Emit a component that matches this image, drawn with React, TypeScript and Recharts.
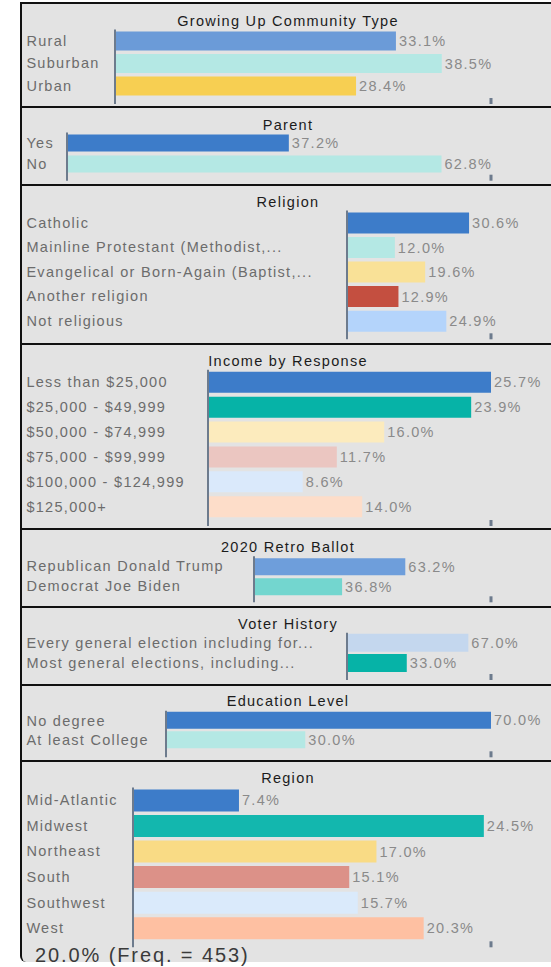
import React from 'react';
import { BarChart, Bar, XAxis, YAxis, Cell, LabelList } from 'recharts';

const FONT = '"Liberation Sans", Arial, sans-serif';

const communityCategories = ['Rural', 'Suburban', 'Urban'];
const communityValues = [33.1, 38.5, 28.4];
const communityColors = ['#6b9bd8', '#b4e8e4', '#f7cf52'];

const parentCategories = ['Yes', 'No'];
const parentValues = [37.2, 62.8];
const parentColors = ['#3d7cc9', '#b4e8e4'];

const religionCategories = [
  'Catholic',
  'Mainline Protestant (Methodist,...',
  'Evangelical or Born-Again (Baptist,...',
  'Another religion',
  'Not religious',
];
const religionValues = [30.6, 12.0, 19.6, 12.9, 24.9];
const religionColors = ['#3d7cc9', '#b4e8e4', '#f9e197', '#c44f40', '#b4d4fb'];

const incomeCategories = [
  'Less than $25,000',
  '$25,000 - $49,999',
  '$50,000 - $74,999',
  '$75,000 - $99,999',
  '$100,000 - $124,999',
  '$125,000+',
];
const incomeValues = [25.7, 23.9, 16.0, 11.7, 8.6, 14.0];
const incomeColors = ['#3d7cc9', '#06b3a7', '#fcebbd', '#ebc6c1', '#dae9fb', '#fdddc9'];

const ballotCategories = ['Republican Donald Trump', 'Democrat Joe Biden'];
const ballotValues = [63.2, 36.8];
const ballotColors = ['#6e9edb', '#73d6cf'];

const voterCategories = ['Every general election including for...', 'Most general elections, including...'];
const voterValues = [67.0, 33.0];
const voterColors = ['#c4d7ee', '#06b3a7'];

const educationCategories = ['No degree', 'At least College'];
const educationValues = [70.0, 30.0];
const educationColors = ['#3d7cc9', '#b4e8e4'];

const regionCategories = ['Mid-Atlantic', 'Midwest', 'Northeast', 'South', 'Southwest', 'West'];
const regionValues = [7.4, 24.5, 17.0, 15.1, 15.7, 20.3];
const regionColors = ['#3d7cc9', '#13b7ae', '#f9db85', '#dc9188', '#daeafb', '#fec0a2'];

const panelTitles = [
  'Growing Up Community Type',
  'Parent',
  'Religion',
  'Income by Response',
  '2020 Retro Ballot',
  'Voter History',
  'Education Level',
  'Region',
];
const axisMaxima = [44.3, 71.1, 36.1, 25.7, 99, 79.5, 70, 25];
const footerText = '20.0% (Freq. = 453)';

const CHART_W = 532;
const PLOT_RIGHT = 469; // relative to chart left
const AXIS_COLOR = '#6d7b8d';

const panels = [
  { title: panelTitles[0], cats: communityCategories, vals: communityValues, colors: communityColors, max: axisMaxima[0], h: 102, titleY: 16.7, plotTop: 25.5, plotBottom: 100, padBottom: 7, x0: 115, barSize: 19 },
  { title: panelTitles[1], cats: parentCategories, vals: parentValues, colors: parentColors, max: axisMaxima[1], h: 76, titleY: 17, plotTop: 24.5, plotBottom: 72.7, padBottom: 6.2, x0: 67, barSize: 17 },
  { title: panelTitles[2], cats: religionCategories, vals: religionValues, colors: religionColors, max: axisMaxima[2], h: 157, titleY: 15.7, plotTop: 24.4, plotBottom: 153.3, padBottom: 6.1, x0: 347, barSize: 21 },
  { title: panelTitles[3], cats: incomeCategories, vals: incomeValues, colors: incomeColors, max: axisMaxima[3], h: 183, titleY: 15.7, plotTop: 24.75, plotBottom: 181, padBottom: 6.85, x0: 208, barSize: 21 },
  { title: panelTitles[4], cats: ballotCategories, vals: ballotValues, colors: ballotColors, max: axisMaxima[4], h: 76, titleY: 16.7, plotTop: 26.2, plotBottom: 72.3, padBottom: 6.1, x0: 254, barSize: 17 },
  { title: panelTitles[5], cats: voterCategories, vals: voterValues, colors: voterColors, max: axisMaxima[5], h: 76, titleY: 16, plotTop: 24.7, plotBottom: 72, padBottom: 6.9, x0: 347, barSize: 18 },
  { title: panelTitles[6], cats: educationCategories, vals: educationValues, colors: educationColors, max: axisMaxima[6], h: 74, titleY: 14.7, plotTop: 24.75, plotBottom: 71.3, padBottom: 7.5, x0: 166, barSize: 17 },
  { title: panelTitles[7], cats: regionCategories, vals: regionValues, colors: regionColors, max: axisMaxima[7], h: 200, titleY: 16.3, plotTop: 25.4, plotBottom: 185.3, padBottom: 6.5, x0: 133, barSize: 22 },
];

const CategoryTick = (props: any) => {
  const { y, payload } = props;
  return (
    <text x={4.4} y={y} dy="0.35em" textAnchor="start" fill="#6c6c6c" fontSize={14.5} fontFamily={FONT} style={{ letterSpacing: '1.3px' }}>
      {payload.value}
    </text>
  );
};

const EndTick = (props: any) => {
  const { x, y } = props;
  return <rect x={x - 1.5} y={y - 6} width={3} height={6} fill={AXIS_COLOR} />;
};

const ValueLabel = (props: any) => {
  const { x, y, width, height, value } = props;
  return (
    <text x={x + width + 3} y={y + height / 2} dy="0.35em" textAnchor="start" fill="#8a8a8a" fontSize={14.5} fontFamily={FONT} style={{ letterSpacing: '1.3px' }}>
      {`${Number(value).toFixed(1)}%`}
    </text>
  );
};

const Panel = ({ p, last }: { p: any; last: boolean }) => {
  const data = p.cats.map((c: string, i: number) => ({ name: c, value: p.vals[i] }));
  return (
    <div style={{ position: 'relative', height: p.h, borderBottom: last ? 'none' : '2px solid #111' }}>
      <div
        style={{
          position: 'absolute',
          left: 0,
          width: CHART_W,
          top: p.titleY - 8,
          height: 16,
          lineHeight: '16px',
          textAlign: 'center',
          fontFamily: FONT,
          fontSize: 14.5,
          letterSpacing: '1.3px',
          color: '#1c1c1c',
          whiteSpace: 'nowrap',
        }}
      >
        {p.title}
      </div>
      <div style={{ position: 'absolute', left: 0, top: 0 }}>
        <BarChart
          width={CHART_W}
          height={p.h}
          data={data}
          layout="vertical"
          margin={{ top: p.plotTop, bottom: p.h - p.plotBottom - 2, left: 0, right: CHART_W - PLOT_RIGHT }}
        >
          <XAxis
            type="number"
            domain={[0, p.max]}
            ticks={[p.max]}
            interval={0}
            height={2}
            axisLine={false}
            tickLine={false}
            tickSize={0}
            tickMargin={0}
            tick={<EndTick />}
            allowDataOverflow
          />
          <YAxis
            type="category"
            dataKey="name"
            width={p.x0 - 22}
            interval={0}
            axisLine={{ stroke: AXIS_COLOR, strokeWidth: 2 }}
            tickLine={false}
            tick={<CategoryTick />}
            padding={{ top: 0, bottom: p.padBottom }}
          />
          <Bar dataKey="value" barSize={p.barSize} isAnimationActive={false}>
            {data.map((_: any, i: number) => (
              <Cell key={i} fill={p.colors[i]} />
            ))}
            <LabelList dataKey="value" content={<ValueLabel />} />
          </Bar>
        </BarChart>
      </div>
    </div>
  );
};

export default function App() {
  return (
    <div style={{ position: 'absolute', left: 0, top: 0, width: 551, height: 967, background: '#ffffff', overflow: 'hidden', fontFamily: FONT }}>
      <div
        style={{
          position: 'absolute',
          left: 20,
          top: 2,
          width: 540,
          borderLeft: '2px solid #111',
          borderTop: '2px solid #111',
          borderBottomLeftRadius: 6,
          background: '#e3e3e3',
          overflow: 'hidden',
        }}
      >
        {panels.map((p, i) => (
          <Panel key={i} p={p} last={i === panels.length - 1} />
        ))}
      </div>
      <div
        style={{
          position: 'absolute',
          left: 35,
          top: 944.5,
          height: 20,
          lineHeight: '20px',
          fontFamily: FONT,
          fontSize: 20,
          letterSpacing: '1.9px',
          color: '#3a3a3a',
          whiteSpace: 'nowrap',
        }}
      >
        {footerText}
      </div>
    </div>
  );
}
